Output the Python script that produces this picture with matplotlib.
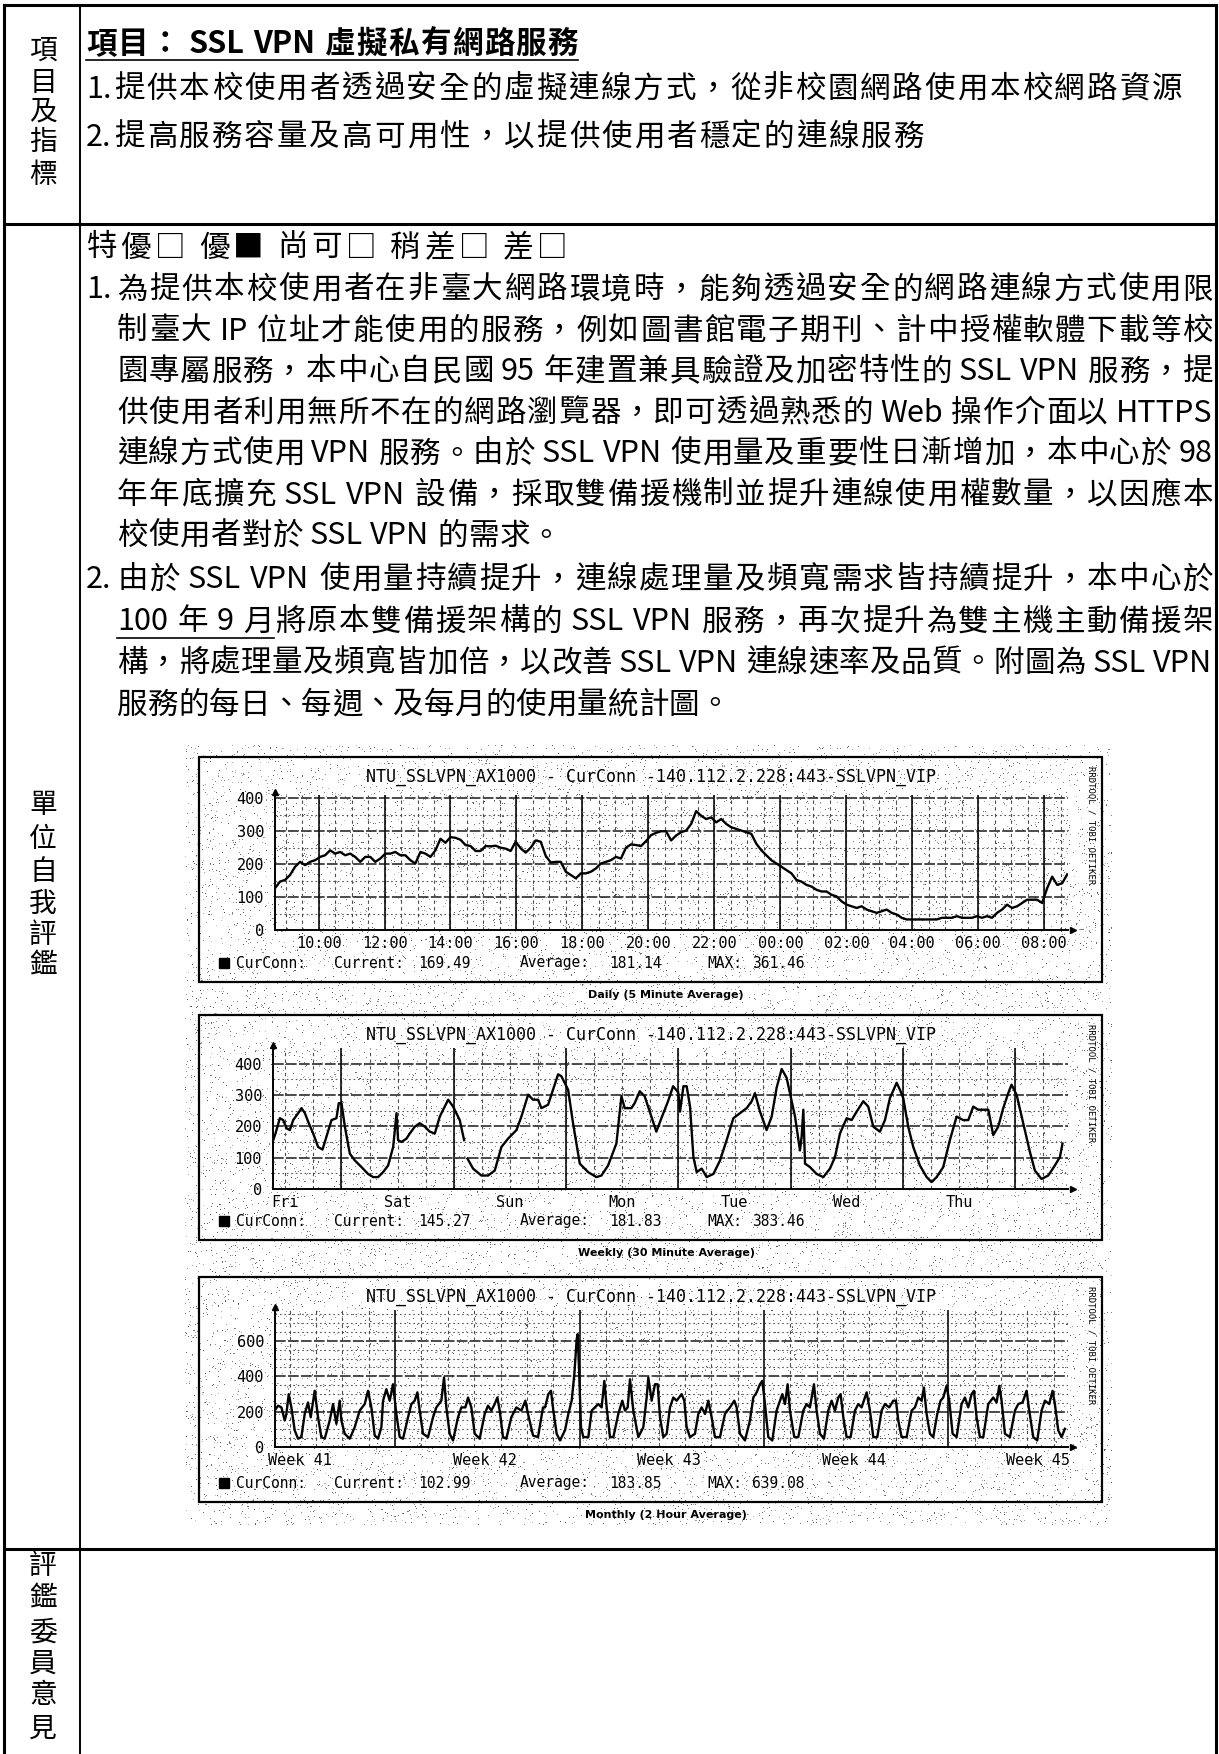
import re
import numpy as np
import matplotlib
matplotlib.use("Agg")
import matplotlib.pyplot as plt
from matplotlib.patches import Rectangle

# ---------------------------------------------------------------- data
# Daily graph (5 minute average), connections, sampled every ~9 minutes
DAILY_START_H = 8.68
DAILY_STEP_H = 0.152
DAILY_CONN = [
    127, 147, 152, 167, 192, 207, 197, 207, 212, 222, 227, 242, 232, 237, 227, 232,
    222, 207, 222, 222, 207, 217, 232, 232, 237, 227, 227, 212, 202, 237, 232, 222,
    242, 277, 265, 282, 280, 274, 258, 255, 240, 240, 255, 254, 256, 250, 247, 240,
    268, 248, 235, 250, 272, 268, 225, 205, 207, 207, 177, 167, 157, 172, 172, 177,
    187, 202, 207, 212, 222, 217, 250, 260, 258, 255, 270, 288, 295, 300, 300,
    272, 287, 297, 302, 322, 361, 347, 337, 342, 327, 337, 322, 312, 307, 302, 297,
    292, 262, 242, 227, 212, 202, 192, 182, 172, 152, 147, 137, 132, 122, 117, 117,
    107, 102, 87, 77, 72, 67, 72, 62, 57, 52, 57, 62, 52, 47, 37, 32, 32, 32, 32, 32,
    32, 32, 37, 37, 37, 42, 37, 37, 37, 42, 37, 42, 37, 52, 62, 77, 67, 72, 82, 92,
    92, 92, 82, 127, 162, 137, 142, 169,
]
DAILY_TICKS_H = [10, 12, 14, 16, 18, 20, 22, 24, 26, 28, 30, 32]
DAILY_TICK_LABELS = ["10:00", "12:00", "14:00", "16:00", "18:00", "20:00",
                     "22:00", "00:00", "02:00", "04:00", "06:00", "08:00"]
DAILY_STATS = ("169.49", "181.14", "361.46")

# Weekly graph (30 minute average); day 0 = Friday 00:00
WEEKLY_DAY = [
    0.392, 0.412, 0.451, 0.481, 0.510, 0.540, 0.570, 0.614, 0.644, 0.674, 0.703,
    0.748, 0.792, 0.831, 0.866, 0.911, 0.955, 0.976, 1.000, 1.030, 1.074, 1.119,
    1.178, 1.237, 1.282, 1.326, 1.371, 1.415, 1.460, 1.490, 1.504, 1.534, 1.579,
    1.608, 1.653, 1.697, 1.742, 1.786, 1.831, 1.875, 1.950, 1.994, 2.053, 2.092,
    2.107,
    2.122, 2.172, 2.246, 2.306, 2.365, 2.424, 2.484, 2.558, 2.602, 2.662, 2.706,
    2.751, 2.780, 2.840, 2.884, 2.929, 2.958, 3.018, 3.062, 3.122, 3.196, 3.270,
    3.315, 3.374, 3.448, 3.493, 3.522, 3.582, 3.611, 3.656, 3.700, 3.760, 3.804,
    3.849, 3.908, 3.953, 3.991, 4.000, 4.015, 4.045, 4.074, 4.104, 4.134, 4.163,
    4.208, 4.252, 4.312, 4.371, 4.430, 4.490, 4.549, 4.608, 4.653, 4.682, 4.727,
    4.786, 4.831, 4.875, 4.920, 4.964, 5.000, 5.039, 5.083, 5.098, 5.113, 5.128,
    5.172, 5.231, 5.291, 5.350, 5.395, 5.439, 5.499, 5.543, 5.588, 5.647, 5.691,
    5.736, 5.795, 5.840, 5.884, 5.944, 5.973, 6.003, 6.047, 6.092, 6.151, 6.211,
    6.255, 6.300, 6.359, 6.418, 6.478, 6.537, 6.582, 6.626, 6.671, 6.715, 6.760,
    6.804, 6.849, 6.893, 6.938, 6.967, 7.012, 7.071, 7.131, 7.175, 7.234, 7.294,
    7.353, 7.398, 7.421,
]
WEEKLY_CONN = [
    156, 177, 226, 220, 194, 188, 220, 242, 258, 242, 215,
    177, 134, 126, 167, 220, 226, 274, 274, 199, 113, 91,
    70, 48, 38, 38, 54, 75, 134, 242, 156, 150, 161,
    177, 199, 210, 199, 183, 177, 231, 285, 263, 220, 156,
    float("nan"),
    97, 65, 43, 43, 59, 134, 161, 188, 231, 301, 285,
    285, 258, 269, 317, 366, 360, 317, 210, 81, 54, 38,
    43, 75, 145, 296, 258, 258, 274, 312, 296, 231, 183,
    226, 280, 328, 312, 306, 247, 328, 328, 263, 102, 54,
    65, 38, 48, 91, 156, 226, 242, 258, 280, 306, 247,
    188, 231, 323, 383, 355, 296, 231, 123, 167, 253, 81,
    70, 48, 38, 65, 102, 177, 226, 220, 247, 280, 263,
    199, 183, 220, 290, 339, 317, 290, 199, 134, 75, 38,
    22, 38, 70, 156, 231, 220, 220, 263, 253, 253, 253,
    172, 199, 258, 306, 333, 301, 210, 118, 59, 32, 43,
    75, 102, 145,
]
WEEKLY_LABELS = ["Fri", "Sat", "Sun", "Mon", "Tue", "Wed", "Thu"]
WEEKLY_STATS = ("145.27", "181.83", "383.46")

# Monthly graph (2 hour average); day 0 = first midnight on the axis
MONTHLY_DAY = [
    -0.570, -0.444, -0.317, -0.191, -0.128, -0.039, 0.062, 0.188, 0.315, 0.441,
    0.568, 0.694, 0.796, 0.947, 1.074, 1.200, 1.327, 1.517, 1.643, 1.770, 1.896,
    1.959, 2.086, 2.276, 2.466, 2.655, 2.845, 2.971, 3.098, 3.225, 3.351, 3.478,
    3.541, 3.667, 3.794, 3.920, 4.047, 4.173, 4.300, 4.489, 4.616, 4.742, 4.844,
    4.932, 5.059, 5.249, 5.438, 5.565, 5.754, 5.856, 5.944, 6.071, 6.197, 6.387,
    6.514, 6.665, 6.767, 6.893, 7.020, 7.209, 7.399, 7.526, 7.652, 7.779, 7.880,
    7.968, 8.095, 8.221, 8.411, 8.601, 8.791, 8.943, 9.044, 9.234, 9.423, 9.613,
    9.689, 9.815, 9.916, 10.005, 10.131, 10.258, 10.447, 10.574, 10.701, 10.802,
    10.890, 10.928, 10.979, 11.055, 11.143, 11.333, 11.460, 11.586, 11.713, 11.839,
    11.940, 12.029, 12.155, 12.282, 12.471, 12.623, 12.725, 12.826, 12.914, 13.041,
    13.231, 13.420, 13.547, 13.610, 13.737, 13.863, 13.964, 14.053, 14.179, 14.306,
    14.432, 14.559, 14.685, 14.875, 14.976, 15.065, 15.191, 15.381, 15.508, 15.634,
    15.761, 15.887, 16.014, 16.140, 16.330, 16.520, 16.709, 16.874, 16.962, 17.089,
    17.279, 17.468, 17.595, 17.721, 17.848, 17.936, 18.038, 18.164, 18.316, 18.480,
    18.607, 18.695, 18.797, 18.898, 18.986, 19.151, 19.303, 19.492, 19.619, 19.745,
    19.897, 19.998, 20.125, 20.277, 20.441, 20.568, 20.694, 20.821, 20.909, 21.011,
    21.137, 21.289, 21.453, 21.580, 21.706, 21.833, 21.896, 22.023, 22.149, 22.301,
    22.465, 22.592, 22.756, 22.908, 23.009, 23.098, 23.224, 23.414, 23.604, 23.730,
    23.857, 23.983, 24.072, 24.173, 24.300, 24.426, 24.578, 24.704, 24.806, 24.932,
    25.033, 25.160, 25.312, 25.501, 25.628, 25.754, 25.881, 25.969, 26.071, 26.197,
    26.324, 26.513, 26.703, 26.830, 26.931, 27.019, 27.146, 27.336, 27.525, 27.652,
    27.816, 27.968, 28.069, 28.221, 28.373, 28.537, 28.664, 28.828, 28.955, 29.043,
    29.170, 29.296, 29.423,
]
MONTHLY_CONN = [
    206, 234, 224, 150, 187, 299, 224, 94, 47, 56,
    187, 252, 168, 318, 168, 56, 47, 150, 243, 131, 262,
    150, 75, 47, 112, 206, 243, 318, 224, 65, 47, 112,
    262, 327, 262, 355, 187, 56, 47, 168, 243, 262, 309,
    206, 75, 56, 168, 224, 262, 393, 224, 75, 37, 168,
    224, 224, 280, 224, 75, 47, 187, 234, 206, 243, 280,
    206, 56, 47, 168, 224, 206, 262, 187, 65, 56, 224,
    224, 299, 318, 206, 75, 37, 94, 187, 262, 411,
    608, 639, 449, 112, 56, 56, 206, 224, 243, 224,
    374, 224, 56, 56, 187, 262, 206, 224, 383, 206,
    56, 112, 280, 393, 262, 355, 355, 168, 56, 75,
    224, 280, 262, 299, 262, 112, 56, 75, 187, 224,
    187, 262, 168, 56, 56, 187, 224, 262, 224, 75,
    37, 150, 280, 309, 355, 374, 243, 56, 37, 206,
    262, 299, 243, 355, 206, 56, 56, 206, 243, 224,
    355, 206, 75, 47, 206, 262, 206, 280, 299, 168,
    56, 56, 206, 243, 224, 280, 309, 206, 56, 56,
    206, 243, 224, 262, 262, 150, 56, 56, 206, 224,
    280, 262, 336, 187, 75, 56, 187, 262, 280, 346,
    262, 75, 56, 243, 280, 224, 299, 318, 168, 56,
    56, 243, 280, 252, 346, 262, 75, 56, 206, 243,
    252, 318, 206, 56, 37, 206, 262, 243, 318, 243,
    94, 56, 103,
]
MONTHLY_LABELS = ["Week 41", "Week 42", "Week 43", "Week 44", "Week 45"]
MONTHLY_STATS = ("102.99", "183.85", "639.08")

CHART_TITLE = "NTU_SSLVPN_AX1000 - CurConn -140.112.2.228:443-SSLVPN_VIP"
CAPTIONS = ["Daily (5 Minute Average)", "Weekly (30 Minute Average)",
            "Monthly (2 Hour Average)"]

# ---------------------------------------------------------------- text
HEAD_LABEL = "項目及指標"
SELF_LABEL = "單位自我評鑑"
REVIEW_LABEL = "評鑑委員意見"
ITEM_TITLE = "項目： SSL VPN 虛擬私有網路服務"
ITEM_LINES = [
    "1.提供本校使用者透過安全的虛擬連線方式，從非校園網路使用本校網路資源",
    "2.提高服務容量及高可用性，以提供使用者穩定的連線服務",
]
RATING = "特優□ 優■ 尚可□ 稍差□ 差□"
PARA1 = [
    "為提供本校使用者在非臺大網路環境時，能夠透過安全的網路連線方式使用限",
    "制臺大 IP 位址才能使用的服務，例如圖書館電子期刊、計中授權軟體下載等校",
    "園專屬服務，本中心自民國 95 年建置兼具驗證及加密特性的 SSL VPN 服務，提",
    "供使用者利用無所不在的網路瀏覽器，即可透過熟悉的 Web 操作介面以 HTTPS",
    "連線方式使用 VPN 服務。由於 SSL VPN 使用量及重要性日漸增加，本中心於 98",
    "年年底擴充 SSL VPN 設備，採取雙備援機制並提升連線使用權數量，以因應本",
    "校使用者對於 SSL VPN 的需求。",
]
PARA2 = [
    "由於 SSL VPN 使用量持續提升，連線處理量及頻寬需求皆持續提升，本中心於",
    "100 年 9 月將原本雙備援架構的 SSL VPN 服務，再次提升為雙主機主動備援架",
    "構，將處理量及頻寬皆加倍，以改善 SSL VPN 連線速率及品質。附圖為 SSL VPN",
    "服務的每日、每週、及每月的使用量統計圖。",
]

# ---------------------------------------------------------------- figure
W, H = 1219, 1754
fig = plt.figure(figsize=(W / 100, H / 100), dpi=100)
fig.patch.set_facecolor("white")
page = fig.add_axes([0, 0, 1, 1])
page.set_xlim(0, W)
page.set_ylim(H, 0)
page.axis("off")
renderer = fig.canvas.get_renderer()

CJK = ["Noto Sans CJK TC", "DejaVu Sans"]
MONO = "DejaVu Sans Mono"
BODY = 22


def px_axes(x0, y0, x1, y1):
    return fig.add_axes([x0 / W, 1 - y1 / H, (x1 - x0) / W, (y1 - y0) / H])


def is_wide(ch):
    return len(ch) == 1 and ord(ch) > 0x2000


def spread(s, x0, x1, y, size=BODY, weight="normal", underline_upto=None):
    """Lay a line of text out token by token between x0 and x1."""
    toks = re.findall(r"[A-Za-z0-9.:]+| |.", s)
    em = size * 100 / 72
    widths, arts = [], []
    for t in toks:
        if t == " ":
            widths.append(em * 0.18)
            arts.append(None)
        elif is_wide(t):
            widths.append(em)
            arts.append(page.text(0, y, t, fontsize=size, family=CJK, ha="center",
                                  va="center", fontweight=weight))
        else:
            a = page.text(0, y, t, fontsize=size, family=CJK, ha="left",
                          va="center", fontweight=weight)
            widths.append(a.get_window_extent(renderer).width + 1)
            arts.append(a)
    gap = (x1 - x0 - sum(widths)) / max(len(toks) - 1, 1)
    x = x0
    ends = []
    for t, w, a in zip(toks, widths, arts):
        if a is not None:
            a.set_x(x + w / 2 if is_wide(t) else x)
        x += w
        ends.append(x)
        x += gap
    if underline_upto is not None:
        xe = ends[underline_upto] if underline_upto >= 0 else ends[-1]
        page.plot([x0, xe], [y + 16, y + 16], color="black", lw=1.2)


def vertical_label(text, x, ys, size=20):
    for ch, yy in zip(text, ys):
        page.text(x, yy, ch, fontsize=size, family=CJK, ha="center", va="center")


# table borders
BL, BR, BT = 4, 1216, 5
DIV_X = 80
ROW1, ROW2 = 224, 1549
page.plot([BL, BR], [BT, BT], color="black", lw=2.2)
page.plot([BL, BL], [BT, H], color="black", lw=2.2)
page.plot([BR, BR], [BT, H], color="black", lw=2.2)
page.plot([BL, BR], [ROW1, ROW1], color="black", lw=2.2)
page.plot([BL, BR], [ROW2, ROW2], color="black", lw=2.2)
page.plot([DIV_X, DIV_X], [BT, H], color="black", lw=1.4)

vertical_label(HEAD_LABEL, 43, [51, 83, 112, 142, 175])
vertical_label(SELF_LABEL, 43, [805, 839, 872, 904, 935, 966])
vertical_label(REVIEW_LABEL, 43, [1566, 1599, 1633, 1664, 1695, 1729])

# first row: item and goals
spread(ITEM_TITLE, 86, 578, 44, weight="bold", underline_upto=-1)
spread(ITEM_LINES[0], 86, 1182, 89)
spread(ITEM_LINES[1], 86, 924, 137)

# second row: rating and self assessment
spread(RATING, 86, 568, 248)
p1_y = [290, 331, 372, 413, 454, 495, 536]
page.text(86, p1_y[0], "1.", fontsize=BODY, family=CJK, ha="left", va="center")
for i, (line, yy) in enumerate(zip(PARA1, p1_y)):
    right = 1213 if i < len(PARA1) - 1 else 561
    spread(line, 117, right, yy)
p2_y = [580, 622, 663, 705]
page.text(86, p2_y[0], "2.", fontsize=BODY, family=CJK, ha="left", va="center")
for i, (line, yy) in enumerate(zip(PARA2, p2_y)):
    right = 1213 if i < len(PARA2) - 1 else 730
    spread(line, 117, right, yy, underline_upto=6 if i == 1 else None)

# scanned-print speckle around the embedded graphs
SPECK_X0, SPECK_X1, SPECK_Y0, SPECK_Y1 = 185, 1112, 745, 1525
rng = np.random.default_rng(11)
sh, sw = SPECK_Y1 - SPECK_Y0, SPECK_X1 - SPECK_X0
speck = np.zeros((sh, sw, 4))
dots = rng.random((sh, sw)) < 0.03
speck[dots, 3] = rng.uniform(0.25, 0.7, dots.sum())
page.imshow(speck, extent=(SPECK_X0, SPECK_X1, SPECK_Y1, SPECK_Y0),
            interpolation="nearest", aspect="auto", zorder=0)
page.set_xlim(0, W)
page.set_ylim(H, 0)


# ---------------------------------------------------------------- charts
def rrd_chart(top, box, x, y, xlim, ylim, yticks, hmajor, hminor, vmajor, vminor,
              xticks, xlabels, stats, caption):
    page.add_patch(Rectangle((199, top), 903, 225, fill=False, ec="black", lw=1.6))
    page.text(651, top + 20, CHART_TITLE, fontsize=12, family=MONO,
              ha="center", va="center")
    page.text(1091, top + 68, "RRDTOOL / TOBI OETIKER", fontsize=6.5, family=MONO,
              rotation=270, ha="center", va="center")
    ly = top + 206
    page.add_patch(Rectangle((219, ly - 5), 10, 10, color="black"))
    for txt, xx in zip(["CurConn:", "Current:", stats[0], "Average:", stats[1],
                        "MAX:", stats[2]],
                       [236, 334, 418, 520, 609, 707, 752]):
        page.text(xx, ly, txt, fontsize=10.5, family=MONO, ha="left", va="center")
    page.text(666, top + 238, caption, fontsize=8, fontweight="bold",
              ha="center", va="center")

    ax = px_axes(*box)
    ax.patch.set_alpha(0)
    ax.set_xlim(*xlim)
    ax.set_ylim(*ylim)
    for v in hminor:
        ax.axhline(v, color="0.35", lw=0.8, ls=(0, (1.5, 2.5)), zorder=1)
    for v in hmajor:
        ax.axhline(v, color="0.1", lw=1.1, ls=(0, (7, 1.5)), zorder=1)
    for v in vminor:
        ax.axvline(v, color="0.3", lw=0.8, ls=(0, (3, 3)), zorder=1)
    for v in vmajor:
        ax.axvline(v, color="0.05", lw=1.2, zorder=1)
    ax.plot(x, y, color="black", lw=1.7, zorder=3)
    for s in ("top", "right"):
        ax.spines[s].set_visible(False)
    for s in ("left", "bottom"):
        ax.spines[s].set_linewidth(1.4)
    ax.plot([1.006], [0], marker=">", ms=5, color="black",
            transform=ax.transAxes, clip_on=False)
    ax.plot([0], [1.02], marker="^", ms=5, color="black",
            transform=ax.transAxes, clip_on=False)
    ax.set_xticks(xticks)
    ax.set_xticklabels(xlabels, fontfamily=MONO, fontsize=11)
    ax.set_yticks(yticks)
    ax.set_yticklabels([str(v) for v in yticks], fontfamily=MONO, fontsize=11)
    ax.tick_params(axis="x", length=0, pad=4)
    ax.tick_params(axis="y", length=0, pad=8)
    return ax


# daily
d_hours = DAILY_START_H + DAILY_STEP_H * np.arange(len(DAILY_CONN))
rrd_chart(757, (275, 795, 1068, 930), d_hours, DAILY_CONN, (8.68, 32.72), (0, 410),
          [0, 100, 200, 300, 400], [100, 200, 300, 400], [50, 150, 250, 350],
          DAILY_TICKS_H, np.arange(9.0, 33.0, 0.5),
          DAILY_TICKS_H, DAILY_TICK_LABELS, DAILY_STATS, CAPTIONS[0])

# weekly
rrd_chart(1015, (273, 1048, 1068, 1189), WEEKLY_DAY, WEEKLY_CONN, (0.39, 7.47),
          (0, 450), [0, 100, 200, 300, 400], [100, 200, 300, 400],
          [50, 150, 250, 350], list(range(1, 8)), np.arange(0.5, 7.5, 0.25),
          [k + 0.5 for k in range(7)], WEEKLY_LABELS, WEEKLY_STATS, CAPTIONS[1])

# monthly
rrd_chart(1277, (275, 1310, 1068, 1447), MONTHLY_DAY, MONTHLY_CONN, (-0.56, 29.54),
          (0, 775), [0, 200, 400, 600], [200, 400, 600],
          [v for v in range(50, 800, 50) if v % 200],
          [4, 11, 18, 25], [d for d in range(0, 30) if (d - 4) % 7],
          [0.4 + 7 * k for k in range(5)], MONTHLY_LABELS, MONTHLY_STATS,
          CAPTIONS[2])

fig.savefig("out.png", dpi=100, facecolor="white")
